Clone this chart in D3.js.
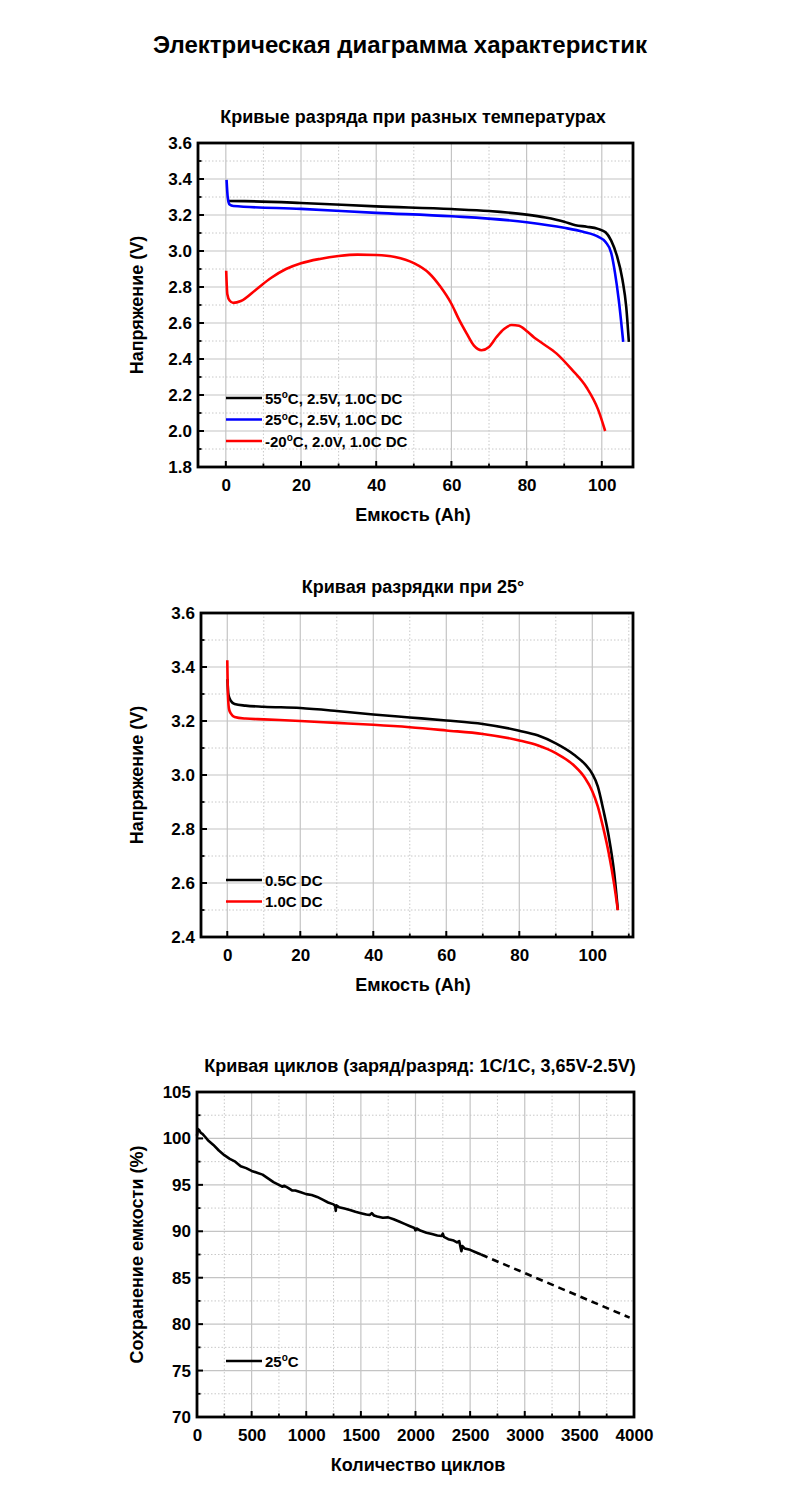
<!DOCTYPE html>
<html><head><meta charset="utf-8">
<script src="https://cdn.jsdelivr.net/npm/d3@7"></script>
<style>
body{margin:0;background:#fff;}
svg text{font-family:"Liberation Sans",Arial,sans-serif;font-weight:bold;fill:#000;}
</style></head>
<body>
<svg id="c" width="800" height="1500"></svg>
<script>
// ---------- DATA ----------
const mainTitle = "Электрическая диаграмма характеристик";

// Chart 1: discharge at different temperatures (capacity Ah, voltage V)
const c1Title = "Кривые разряда при разных температурах";
const c1XTicks = [0, 20, 40, 60, 80, 100];
const c1YTicks = [1.8, 2.0, 2.2, 2.4, 2.6, 2.8, 3.0, 3.2, 3.4, 3.6];
const c1Legend = [["55","C, 2.5V, 1.0C DC"],["25","C, 2.5V, 1.0C DC"],["-20","C, 2.0V, 1.0C DC"]];
const c1Colors = ["#000000", "#0000ff", "#ff0000"];
const s55 = [[0.5,3.278],[5,3.277],[20,3.267],[40,3.248],[60,3.233],[70,3.222],[80,3.202],[85,3.186],[90,3.163],[93,3.143],[96,3.135],[99,3.123],[101,3.104],[102.5,3.058],[104,2.975],[105.5,2.84],[106.5,2.69],[107.2,2.495]];
const s25 = [[0.2,3.395],[0.5,3.30],[1,3.258],[2,3.25],[20,3.234],[40,3.212],[60,3.193],[80,3.16],[90,3.129],[95,3.107],[99,3.08],[101,3.05],[102.5,2.99],[103.5,2.88],[104.5,2.73],[105.7,2.495]];
const sM20 = [[0.1,2.89],[0.4,2.76],[1,2.725],[2,2.712],[4,2.722],[8,2.785],[12,2.85],[16,2.9],[20,2.932],[25,2.956],[30,2.972],[35,2.98],[40,2.978],[45,2.967],[50,2.933],[54,2.878],[57,2.804],[60,2.707],[62,2.62],[64,2.544],[66,2.474],[68,2.449],[70,2.467],[72,2.522],[74,2.567],[76,2.589],[78,2.585],[80,2.556],[82,2.52],[84,2.49],[88,2.43],[92,2.342],[96,2.24],[99,2.12],[100.9,2.0]];

// Chart 2: discharge at 25°
const c2Title = "Кривая разрядки при 25°";
const c2XTicks = [0, 20, 40, 60, 80, 100];
const c2YTicks = [2.4, 2.6, 2.8, 3.0, 3.2, 3.4, 3.6];
const c2Legend = ["0.5C DC", "1.0C DC"];
const c2Colors = ["#000000", "#ff0000"];
const s05C = [[0.05,3.355],[0.3,3.298],[1,3.274],[2,3.263],[5,3.257],[10,3.253],[20,3.248],[30,3.237],[40,3.224],[50,3.213],[60,3.202],[70,3.189],[80,3.164],[85,3.147],[90,3.117],[95,3.075],[98,3.04],[100,3.004],[101.5,2.958],[103,2.872],[104.5,2.773],[106,2.637],[107,2.5]];
const s10C = [[0,3.425],[0.2,3.29],[0.5,3.243],[1,3.227],[2,3.215],[5,3.209],[10,3.206],[20,3.2],[30,3.193],[40,3.186],[50,3.177],[60,3.165],[70,3.152],[80,3.128],[85,3.11],[90,3.081],[95,3.035],[98,2.989],[100,2.94],[101.5,2.884],[103,2.804],[104.5,2.711],[106,2.594],[107,2.499]];

// Chart 3: cycle life
const c3Title = "Кривая циклов (заряд/разряд: 1C/1C, 3,65V-2.5V)";
const c3XTicks = [0, 500, 1000, 1500, 2000, 2500, 3000, 3500, 4000];
const c3YTicks = [70, 75, 80, 85, 90, 95, 100, 105];
const c3Legend = ["25", "C"];
const cycMeasured = [[0,100.3],[8,101.0],[20,100.9],[35,100.6],[50,100.5],[80,100.1],[100,99.8],[150,99.3],[200,98.7],[250,98.2],[300,97.8],[350,97.5],[400,97.0],[450,96.8],[500,96.5],[550,96.3],[600,96.1],[650,95.7],[700,95.3],[750,95.0],[780,94.8],[800,94.9],[830,94.7],[870,94.4],[900,94.4],[950,94.2],[1000,94.0],[1050,93.9],[1100,93.7],[1150,93.4],[1200,93.1],[1250,92.9],[1265,92.7],[1270,92.2],[1275,92.8],[1300,92.6],[1350,92.45],[1400,92.3],[1450,92.1],[1500,91.95],[1550,91.8],[1580,91.75],[1600,91.95],[1620,91.7],[1650,91.6],[1700,91.45],[1750,91.5],[1800,91.3],[1850,91.05],[1900,90.8],[1950,90.55],[1990,90.35],[2000,90.1],[2010,90.3],[2050,90.05],[2100,89.85],[2150,89.7],[2200,89.55],[2240,89.5],[2250,89.75],[2260,89.4],[2300,89.15],[2350,89.0],[2380,88.8],[2400,88.95],[2420,87.85],[2430,88.4],[2450,88.15],[2500,88.0],[2550,87.75],[2600,87.5]];
const cycProjected = [[2600,87.5],[3000,85.5],[3500,83.0],[3960,80.7]];

// ---------- DRAW ----------
const svg = d3.select("#c");
svg.append("text").attr("x",400).attr("y",53).attr("text-anchor","middle")
  .style("font-size","24px").text(mainTitle);

function chart(o){
  const g = svg.append("g");
  const x = d3.scaleLinear().domain(o.xd).range([o.l, o.r]);
  const y = d3.scaleLinear().domain(o.yd).range([o.b, o.t]);
  const minorX = o.minorX.filter(v=>!o.xt.includes(v));
  const minorY = o.minorY.filter(v=>!o.yt.some(t=>Math.abs(t-v)<1e-9));
  g.selectAll(".gmx").data(minorX).join("line").attr("x1",d=>x(d)).attr("x2",d=>x(d)).attr("y1",o.t).attr("y2",o.b)
    .attr("stroke","#c8c8c8").attr("stroke-width",1).attr("stroke-dasharray","1.5,2");
  g.selectAll(".gmy").data(minorY).join("line").attr("y1",d=>y(d)).attr("y2",d=>y(d)).attr("x1",o.l).attr("x2",o.r)
    .attr("stroke","#c8c8c8").attr("stroke-width",1).attr("stroke-dasharray","1.5,2");
  g.selectAll(".gx").data(o.xt).join("line").attr("x1",d=>x(d)).attr("x2",d=>x(d)).attr("y1",o.t).attr("y2",o.b)
    .attr("stroke","#c4c4c4").attr("stroke-width",1.2);
  g.selectAll(".gy").data(o.yt).join("line").attr("y1",d=>y(d)).attr("y2",d=>y(d)).attr("x1",o.l).attr("x2",o.r)
    .attr("stroke","#c4c4c4").attr("stroke-width",1.2);
  const xa = d3.axisBottom(x).tickValues(o.xt).tickSize(0).tickPadding(12).tickFormat(o.xf||d3.format("d"));
  const ya = d3.axisLeft(y).tickValues(o.yt).tickSize(0).tickPadding(6).tickFormat(o.yf);
  const gx = g.append("g").attr("transform",`translate(0,${o.b})`).call(xa);
  gx.select(".domain").remove();
  gx.selectAll("text").style("font-size","17px").attr("dy","0.71em");
  const gy = g.append("g").attr("transform",`translate(${o.l},0)`).call(ya);
  gy.select(".domain").remove();
  gy.selectAll("text").style("font-size","17px");
  g.selectAll(".tmx").data(o.xt).join("line").attr("x1",d=>x(d)).attr("x2",d=>x(d)).attr("y1",o.b).attr("y2",o.b-6).attr("stroke","#000").attr("stroke-width",2);
  g.selectAll(".tnx").data(minorX).join("line").attr("x1",d=>x(d)).attr("x2",d=>x(d)).attr("y1",o.b).attr("y2",o.b-3.5).attr("stroke","#000").attr("stroke-width",1.8);
  g.selectAll(".tmy").data(o.yt).join("line").attr("y1",d=>y(d)).attr("y2",d=>y(d)).attr("x1",o.l).attr("x2",o.l+6).attr("stroke","#000").attr("stroke-width",2);
  g.selectAll(".tny").data(minorY).join("line").attr("y1",d=>y(d)).attr("y2",d=>y(d)).attr("x1",o.l).attr("x2",o.l+3.5).attr("stroke","#000").attr("stroke-width",1.8);
  o.series.forEach(s=>{
    const line = d3.line().x(d=>x(d[0])).y(d=>y(d[1])).curve(s.curve||d3.curveMonotoneX);
    g.append("path").datum(s.data).attr("d",line).attr("fill","none").attr("stroke",s.color)
      .attr("stroke-width",2.6).attr("stroke-dasharray",s.dash||null).attr("stroke-linejoin","round");
  });
  g.append("rect").attr("x",o.l).attr("y",o.t).attr("width",o.r-o.l).attr("height",o.b-o.t)
    .attr("fill","none").attr("stroke","#000").attr("stroke-width",2.8);
  g.append("text").attr("x",o.tx).attr("y",o.t-20).attr("text-anchor","middle").style("font-size","18px").text(o.title);
  g.append("text").attr("x",o.xlx).attr("y",o.b+54).attr("text-anchor","middle").style("font-size","18px").text(o.xl);
  g.append("text").attr("transform",`translate(143,${(o.t+o.b)/2}) rotate(-90)`).attr("text-anchor","middle").style("font-size","18px").text(o.yl);
  o.legend.forEach((it,i)=>{
    const ly = o.ly + i*o.lstep;
    g.append("line").attr("x1",226).attr("x2",262).attr("y1",ly).attr("y2",ly).attr("stroke",it.color).attr("stroke-width",2.6);
    const t = g.append("text").attr("x",265).attr("y",ly+5.5).style("font-size","15px");
    if(Array.isArray(it.label)){
      t.append("tspan").text(it.label[0]);
      t.append("tspan").attr("dy",-5.5).style("font-size","10px").text("o");
      t.append("tspan").attr("dy",5.5).text(it.label[1]);
    } else t.text(it.label);
  });
  return {x,y};
}

chart({l:198,r:633,t:143,b:467,xd:[-7.4,108.3],yd:[1.8,3.6],
  xt:c1XTicks,yt:c1YTicks,minorX:d3.range(0,108,10),minorY:d3.range(18,37,1).map(v=>v/10),
  yf:d3.format(".1f"),title:c1Title,tx:413,xl:"Емкость (Ah)",xlx:413,yl:"Напряжение (V)",
  series:[{data:sM20,color:c1Colors[2]},{data:s55,color:c1Colors[0]},{data:s25,color:c1Colors[1]}],
  legend:c1Legend.map((l,i)=>({label:l,color:c1Colors[i]})),ly:398,lstep:21.5});

chart({l:201,r:633,t:613,b:937,xd:[-7.2,111.15],yd:[2.4,3.6],
  xt:c2XTicks,yt:c2YTicks,minorX:d3.range(0,111,10),minorY:d3.range(24,37,1).map(v=>v/10),
  yf:d3.format(".1f"),title:c2Title,tx:413,xl:"Емкость (Ah)",xlx:413,yl:"Напряжение (V)",
  series:[{data:s05C,color:c2Colors[0]},{data:s10C,color:c2Colors[1]}],
  legend:c2Legend.map((l,i)=>({label:l,color:c2Colors[i]})),ly:880,lstep:21.5});

chart({l:197,r:634,t:1092,b:1417,xd:[0,4000],yd:[70,105],
  xt:c3XTicks,yt:c3YTicks,minorX:d3.range(0,4001,250),minorY:d3.range(70,105.1,2.5),
  yf:d3.format("d"),title:c3Title,tx:420,xl:"Количество циклов",xlx:418,yl:"Сохранение емкости (%)",
  series:[{data:cycMeasured,color:"#000",curve:d3.curveLinear},{data:cycProjected,color:"#000",curve:d3.curveLinear,dash:"7,5"}],
  legend:[{label:c3Legend,color:"#000"}],ly:1361,lstep:0});
</script>
</body></html>
